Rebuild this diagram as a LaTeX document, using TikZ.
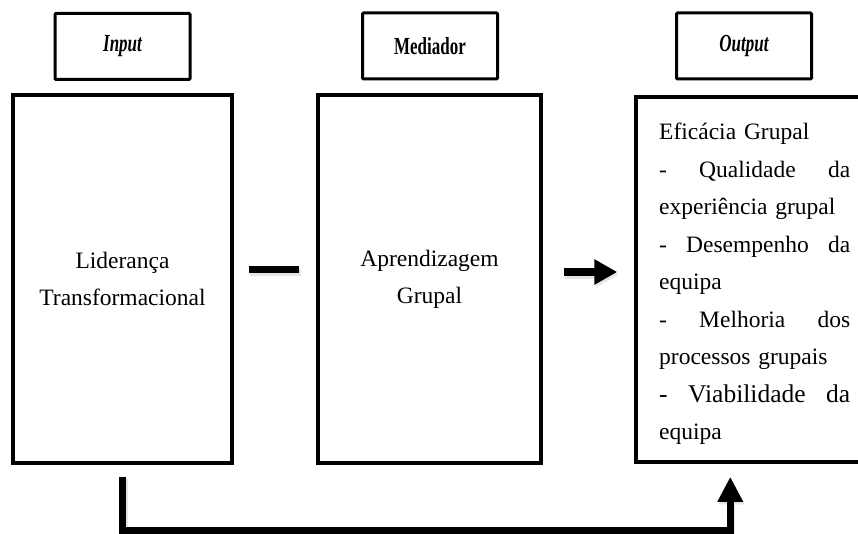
\documentclass[tikz,border=0pt]{standalone}
\usepackage{fontspec}
\usepackage{graphicx}
\setmainfont{Liberation Serif}
\usetikzlibrary{arrows.meta,calc}
\newcommand{\tallhead}[1]{\scalebox{0.97}[1.4]{#1}}
\begin{document}
\begin{tikzpicture}[x=1pt,y=-1pt,
  headbox/.style={draw, line width=3pt, rounded corners=1pt, minimum width=135pt, minimum height=66pt, inner sep=0pt, font=\fontsize{17.5}{20}\selectfont\bfseries},
  mainbox/.style={draw, line width=3.5pt, inner sep=0pt, align=center, font=\fontsize{23.5}{37}\selectfont},
  barline/.style={line width=7pt},
  arrowline/.style={line width=8pt, -{Triangle[length=23pt,width=24pt]}},
  loopline/.style={line width=7pt, line join=miter, -{Triangle[length=25pt,width=24pt]}},
  shade/.style={draw=black!10, transform canvas={shift={(1.5pt,-2.5pt)}}},
]
\clip (0,0) rectangle (858,534);
\fill[white] (0,0) rectangle (858,534);
% header boxes
\node[headbox] (hin) at (122.5,46.5) {\tallhead{\itshape Input}};
\node[headbox] (hmed) at (430,46) {\tallhead{Mediador}};
\node[headbox] (hout) at (744,46) {\tallhead{\itshape Output}};
% main boxes
\node[mainbox, minimum width=219pt, minimum height=368pt] (lbox) at (122.5,279) {Liderança\\Transformacional};
\node[mainbox, minimum width=223pt, minimum height=368pt] (mbox) at (429.5,279) {Aprendizagem\\Grupal};
\node[mainbox, minimum width=244pt, minimum height=365pt] (rbox) at (758,279.5) {};
\node[anchor=north west, inner sep=0pt, text width=191pt, align=left,
      font=\fontsize{23.5}{37.5}\selectfont] (rtext) at (659,123) {%
Eficácia Grupal\\
- \hfill Qualidade \hfill da\\
experiência grupal\\
- \hfill Desempenho \hfill da\\
equipa\\
- \hfill Melhoria \hfill dos\\
processos grupais\\
{\fontsize{25.5}{37.5}\selectfont - \hfill Viabilidade \hfill da}\\
equipa};
% connector shadows
\draw[barline, shade] ([xshift=15pt,yshift=9pt]lbox.east) -- ([xshift=-17pt,yshift=9pt]mbox.west);
\draw[arrowline, shade] ([xshift=21pt,yshift=7pt]mbox.east) -- ([xshift=-17pt,yshift=7.5pt]rbox.west);
\draw[loopline, shade] ([yshift=-12pt]lbox.south) -- ++(0,54) -| ([xshift=96pt,yshift=-13pt]rbox.south west);
% connectors
\draw[barline] ([xshift=15pt,yshift=9pt]lbox.east) -- ([xshift=-17pt,yshift=9pt]mbox.west);
\draw[arrowline] ([xshift=21pt,yshift=7pt]mbox.east) -- ([xshift=-17pt,yshift=7.5pt]rbox.west);
\draw[loopline] ([yshift=-12pt]lbox.south) -- ++(0,54) -| ([xshift=96pt,yshift=-13pt]rbox.south west);
\end{tikzpicture}
\end{document}
